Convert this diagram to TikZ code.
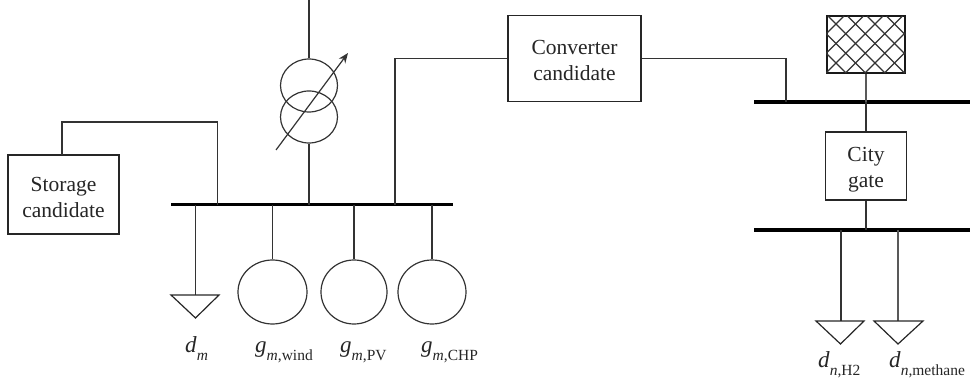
\documentclass[tikz,border=0pt]{standalone}
\usepackage{fontspec}
\setmainfont{Liberation Serif}
\usetikzlibrary{arrows.meta,shapes.geometric}
\newcommand{\lbl}[3]{\textit{\fontsize{23}{23}\selectfont #1}\raisebox{-8pt}{\fontsize{15.5}{15.5}\selectfont\textit{#2}#3}}
\tikzset{
 x=1pt,y=-1pt,
 wire/.style={draw=black!80,line width=1.2pt},
 bus/.style={draw=black,line width=3.4pt},
 link/.style={draw=black!80,line width=2.6pt},
 boxn/.style={draw=black!85,line width=1.2pt,fill=white,inner sep=0pt},
 boxt/.style={align=center,inner sep=0pt,text=black!85,font=\fontsize{21.5}{26}\selectfont},
 gen/.style={ellipse,draw=black!80,line width=1.2pt,inner sep=0pt,fill=none},
 load/.style={draw=black!85,line width=1.2pt,line join=miter},
 lab/.style={inner sep=0pt,anchor=base west,text=black!85},
}
\begin{document}
\begin{tikzpicture}
\useasboundingbox (0,0) rectangle (970,387);
% buses
\coordinate (b1l) at (171,204.7); \coordinate (b1r) at (453,204.7);
\coordinate (b2l) at (754,102); \coordinate (b2r) at (970,102);
\coordinate (b3l) at (754,230); \coordinate (b3r) at (970,230);
\draw[bus] (b1l) -- (b1r);
\draw[bus] (b2l) -- (b2r);
\draw[bus] (b3l) -- (b3r);
% boxes
\node[boxn,minimum width=111pt,minimum height=79pt,label={[boxt,yshift=-3pt]center:{Storage\\candidate}}] (storage) at (63.5,194.5) {};
\node[boxn,minimum width=133pt,minimum height=86pt,label={[boxt,yshift=-2pt]center:{Converter\\candidate}}] (conv) at (574.5,58.5) {};
\node[boxn,minimum width=81pt,minimum height=68pt,label={[boxt,yshift=-4pt]center:{City\\gate}}] (city) at (866,166) {};
\node[draw=black!90,line width=1.2pt,minimum width=78pt,minimum height=57pt,inner sep=0pt] (grid) at (866,44.5) {};
\begin{scope}
\clip (grid.south west) rectangle (grid.north east);
\foreach \k in {-3,...,7}{
 \draw[black!80,line width=1.1pt] (828+\k*19.5,16) -- ++(57,57);
 \draw[black!80,line width=1.1pt] (824.5+\k*19.5,16) -- ++(-57,57);
}
\end{scope}
% storage and converter connectors
\coordinate (s1) at (62,155); \coordinate (s2) at (217.5,205);
\draw[wire] (s1) -- (62,122) -- (217.5,122) -- (s2);
\coordinate (c1) at (395,205);
\draw[wire] (c1) -- (395,58.5) -- (conv.west);
\coordinate (c2) at (786,102);
\draw[wire] (conv.east) -- (786,58.5) -- (c2);
% transformer
\node[gen,minimum width=57pt,minimum height=53pt] (t1) at (309,85.5) {};
\node[gen,minimum width=57pt,minimum height=52pt] (t2) at (309,117) {};
\coordinate (top) at (309,0); \coordinate (tb) at (309,205);
\draw[wire] (top) -- (t1.north);
\draw[wire] (t2.south) -- (tb);
\coordinate (as) at (276,150); \coordinate (ae) at (348,53);
\draw[wire,-{Stealth[length=10pt,width=8pt]}] (as) -- (ae);
% load m
\coordinate (l1) at (195.5,205);
\coordinate (lt1) at (195.5,295);
\draw[wire] (l1) -- (lt1);
\draw[load] (171,295) -- (219,295) -- (195.5,318) -- cycle;
% generators
\node[gen,minimum width=69pt,minimum height=64pt] (g1) at (272.5,292) {};
\node[gen,minimum width=66pt,minimum height=64pt] (g2) at (354,292) {};
\node[gen,minimum width=68pt,minimum height=64pt] (g3) at (432,292) {};
\foreach \g in {g1,g2,g3}{
 \draw[wire] (\g.north |- b1l) -- (\g.north);
}
% city gate links
\coordinate (lk1) at (866,102); \coordinate (lk2) at (866,230);
\draw[link] (lk1) -- (city.north);
\draw[link] (city.south) -- (lk2);
\draw[wire,draw=black!65] (grid.south) -- (lk1);
% gas loads
\coordinate (n1) at (841,230); \coordinate (n2) at (898,230);
\draw[wire] (n1) -- (841,321);
\draw[wire,draw=black!65] (n2) -- (898,321);
\draw[load] (816,321) -- (864,321) -- (840.5,344) -- cycle;
\draw[load] (874,321) -- (923,321) -- (898,344) -- cycle;
% labels
\node[lab] (ldm) at (185,353) {\lbl{d}{m}{}};
\node[lab] (lg1) at (255,353) {\lbl{g}{m}{,wind}};
\node[lab] (lg2) at (340,353) {\lbl{g}{m}{,PV}};
\node[lab] (lg3) at (421,353) {\lbl{g}{m}{,CHP}};
\node[lab] (ln1) at (818,368) {\lbl{d}{n}{,H2}};
\node[lab] (ln2) at (889,368) {\lbl{d}{n}{,methane}};
\end{tikzpicture}
\end{document}
